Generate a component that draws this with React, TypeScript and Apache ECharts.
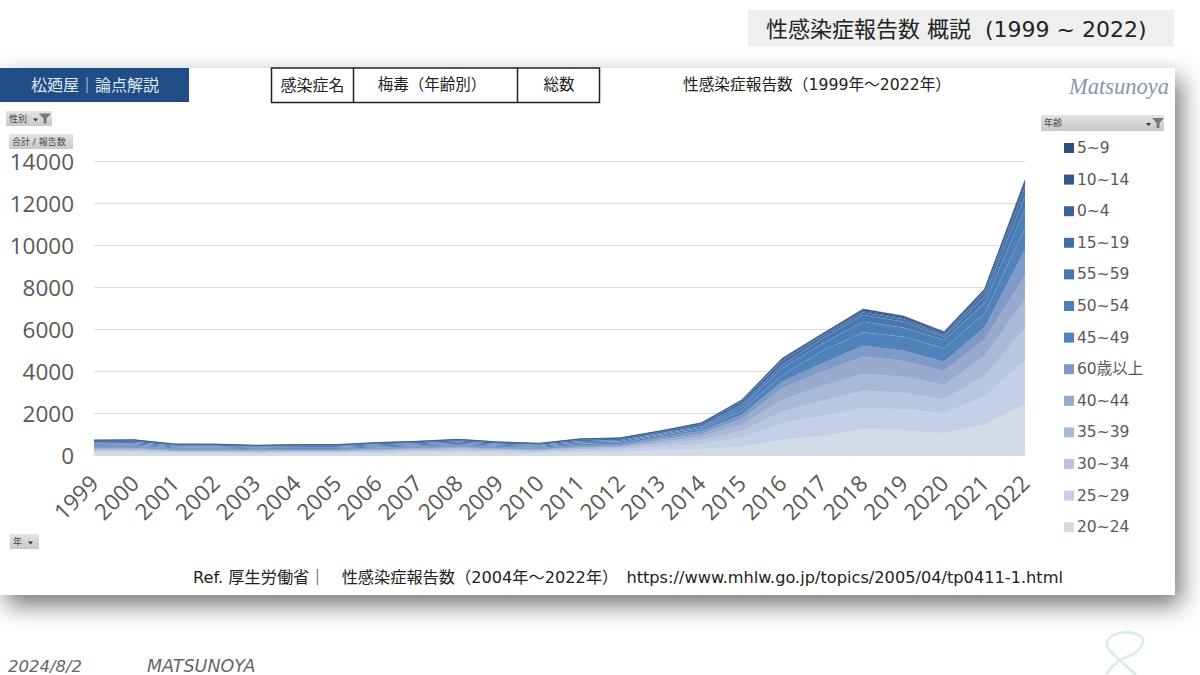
import React, { useEffect, useRef } from "react";
import * as echarts from "echarts";

const years = ["1999","2000","2001","2002","2003","2004","2005","2006","2007","2008","2009","2010","2011","2012","2013","2014","2015","2016","2017","2018","2019","2020","2021","2022"];
const yTicksMax = 14000;
const yTickStep = 2000;

// stacked from the baseline upward
const age20_24 = [100,105,70,65,60,65,65,80,95,115,95,80,120,140,215,280,380,714,873,1222,1158,1031,1440,2400];
const age25_29 = [75,80,55,55,50,50,50,65,75,85,70,60,90,100,175,240,430,793,984,1000,1016,953,1330,2120];
const age30_34 = [55,55,40,40,35,40,40,50,55,65,55,50,65,70,135,190,330,556,730,841,794,666,1000,1510];
const age35_39 = [45,45,30,30,30,30,30,40,45,55,45,40,55,60,110,165,290,556,698,793,762,683,920,1370];
const age40_44 = [40,40,30,30,25,30,30,35,40,45,35,35,45,50,95,130,270,555,683,826,745,667,800,1150];
const age60up = [115,115,85,85,75,75,75,85,90,95,85,80,95,95,120,140,200,317,396,523,492,444,580,1210];
const age45_49 = [65,65,50,50,45,50,50,55,60,65,55,50,70,75,75,95,220,318,603,635,667,634,670,1040];
const age50_54 = [60,60,45,45,40,45,45,50,55,60,50,45,65,65,60,75,170,317,349,510,428,397,500,900];
const age55_59 = [55,55,40,40,35,40,40,50,50,55,50,45,55,55,50,60,110,159,239,315,286,159,300,650];
const age15_19 = [65,65,45,45,40,40,40,50,60,70,60,50,70,75,85,100,150,200,125,125,112,79,200,400];
const age0_4 = [25,25,20,20,15,15,15,20,20,25,15,15,20,15,15,25,30,55,50,50,60,55,70,130];
const age10_14 = [10,10,10,10,10,10,10,10,5,10,5,5,10,10,10,15,20,30,30,55,50,50,50,100];
const age5_9 = [5,5,5,5,5,10,10,10,5,5,5,5,10,10,10,15,20,35,30,55,50,50,40,120];

const stackNames = ["20~24","25~29","30~34","35~39","40~44","60歳以上","45~49","50~54","55~59","15~19","0~4","10~14","5~9"];
const stackValues = [age20_24,age25_29,age30_34,age35_39,age40_44,age60up,age45_49,age50_54,age55_59,age15_19,age0_4,age10_14,age5_9];
const stackColors = ["#d3dbe9","#c4d0e5","#b8c6df","#a9b9d7","#98abce","#7f9ac6","#5082bb","#4c7eb8","#4877b0","#436da5","#3c6398","#34598c","#2d4e7e"];
const legendOrder = ["5~9","10~14","0~4","15~19","55~59","50~54","45~49","60歳以上","40~44","35~39","30~34","25~29","20~24"];

const pageTitle = "性感染症報告数 概説  (1999 ~ 2022)";
const chartTitle = "性感染症報告数（1999年～2022年）";
const refText = "Ref. 厚生労働省｜　性感染症報告数（2004年～2022年）　https://www.mhlw.go.jp/topics/2005/04/tp0411-1.html";

const JP = '"DejaVu Sans", "Noto Sans CJK JP", sans-serif';

const greyFill = new echarts.graphic.LinearGradient(0, 0, 0, 1, [
  { offset: 0, color: "#e4e4e4" },
  { offset: 1, color: "#c8c8c8" },
]);

function button(x: number, y: number, w: number, h: number, label: string, filter: boolean, arrowX: number) {
  const cy = y + h / 2;
  const els: any[] = [
    { type: "rect", shape: { x, y, width: w, height: h }, style: { fill: greyFill } },
    { type: "text", x: x + 3, y: cy, style: { text: label, fontSize: 9, fontFamily: JP, fill: "#444", verticalAlign: "middle" } },
  ];
  if (arrowX) {
    els.push({ type: "polygon", shape: { points: [[arrowX, cy], [arrowX + 5, cy], [arrowX + 2.5, cy + 3]] }, style: { fill: "#333" } });
  }
  if (filter) {
    const fx = arrowX + 6;
    els.push({
      type: "polygon",
      shape: { points: [[fx, cy - 5], [fx + 12, cy - 5], [fx + 7.5, cy], [fx + 7.5, cy + 5], [fx + 4.5, cy + 5], [fx + 4.5, cy]] },
      style: { fill: "#777" },
    });
  }
  return els;
}

function label(x: number, y: number, text: string, fontSize: number, fill = "#222", align = "center", extra: any = {}) {
  return { type: "text", x, y, style: { text, fontSize, fontFamily: JP, fill, align, verticalAlign: "middle", ...extra } };
}

export default function App() {
  const ref = useRef<HTMLDivElement>(null);
  useEffect(() => {
    const chart = echarts.init(ref.current!, null, { renderer: "svg" });
    chart.setOption({
      animation: false,
      backgroundColor: "#ffffff",
      textStyle: { fontFamily: '"Open Sans", sans-serif' },
      grid: { left: 94, right: 175, top: 161, bottom: 220, containLabel: false },
      legend: {
        orient: "vertical",
        left: 1059,
        top: 134,
        icon: "rect",
        itemWidth: 10,
        itemHeight: 10,
        itemGap: 13.6,
        data: legendOrder,
        textStyle: { color: "#595959", fontSize: 15.5, fontFamily: JP, lineHeight: 18, padding: [0, 0, 0, -2] },
      },
      xAxis: {
        type: "category",
        boundaryGap: false,
        data: years,
        axisLine: { show: false },
        axisTick: { show: false },
        axisLabel: { rotate: 45, fontSize: 22.5, color: "#595959", margin: 24, interval: 0, hideOverlap: false },
      },
      yAxis: {
        type: "value",
        min: 0,
        max: yTicksMax,
        interval: yTickStep,
        axisLine: { show: false },
        axisTick: { show: false },
        axisLabel: { fontSize: 22.5, color: "#595959", margin: 20, formatter: (v: number) => String(v) },
        splitLine: { lineStyle: { color: "#dcdcdc", width: 1 } },
      },
      series: stackNames.map((name, i) => ({
        name,
        type: "line",
        stack: "total",
        data: stackValues[i],
        symbol: "none",
        smooth: false,
        itemStyle: { color: stackColors[i] },
        lineStyle: { width: 0.5, color: i >= 6 && i <= 9 ? "rgba(255,255,255,0.14)" : stackColors[i] },
        areaStyle: { color: stackColors[i], opacity: 1 },
      })),
      graphic: [
        { type: "rect", z: -10, shape: { x: 0, y: 68, width: 1175, height: 527 }, style: { fill: "#ffffff", shadowBlur: 24, shadowOffsetX: 6, shadowOffsetY: 10, shadowColor: "rgba(0,0,0,0.55)" } },
        { type: "rect", shape: { x: 748, y: 10, width: 426, height: 36.5 }, style: { fill: "#efefef" } },
        label(766, 29, pageTitle, 22, "#222", "left"),
        { type: "rect", shape: { x: 0, y: 68, width: 189, height: 34 }, style: { fill: "#1f4e87" } },
        label(95, 85, "松廼屋｜論点解説", 16, "#dfe8f3"),
        { type: "rect", shape: { x: 271.5, y: 68, width: 328, height: 34.5 }, style: { fill: "#ffffff", stroke: "#222", lineWidth: 1.5 } },
        { type: "line", shape: { x1: 353.5, y1: 68, x2: 353.5, y2: 102.5 }, style: { stroke: "#222", lineWidth: 1.5 } },
        { type: "line", shape: { x1: 517.5, y1: 68, x2: 517.5, y2: 102.5 }, style: { stroke: "#222", lineWidth: 1.5 } },
        label(312.5, 85, "感染症名", 16),
        label(432, 85, "梅毒（年齢別）", 15.5),
        label(559, 85, "総数", 15.5),
        label(817, 84, chartTitle, 15.7),
        { type: "text", x: 1119, y: 86, style: { text: "Matsunoya", fontSize: 22.5, fontFamily: '"Liberation Serif", serif', fontStyle: "italic", fill: "#8596b2", align: "center", verticalAlign: "middle" } },
        ...button(6, 111, 46, 15, "性別", true, 33),
        ...button(9, 134, 64, 15, "合計 / 報告数", false, 0),
        ...button(10, 534, 29, 15, "年", false, 28),
        ...button(1041, 115, 123, 16, "年齢", true, 1146),
        label(628, 577.5, refText, 16.2, "#222"),
        { type: "text", x: 8, y: 666, style: { text: "2024/8/2", fontSize: 16.5, fontFamily: '"DejaVu Sans", sans-serif', fontStyle: "italic", fill: "#666", verticalAlign: "middle" } },
        { type: "text", x: 147, y: 666, style: { text: "MATSUNOYA", fontSize: 17.5, fontFamily: '"DejaVu Sans", sans-serif', fontStyle: "italic", fill: "#666", verticalAlign: "middle" } },
        { type: "polyline", shape: { points: [[1128, 632], [1140, 636], [1143, 642], [1135, 653], [1120, 660], [1106, 674]], smooth: 0.4 }, style: { stroke: "#d5ecec", lineWidth: 2.5, fill: "none" } },
        { type: "polyline", shape: { points: [[1128, 632], [1112, 636], [1107, 645], [1113, 654], [1122, 662], [1136, 675]], smooth: 0.4 }, style: { stroke: "#d5ecec", lineWidth: 2.5, fill: "none" } },
      ],
    });
    return () => chart.dispose();
  }, []);
  return <div ref={ref} style={{ position: "fixed", left: 0, top: 0, width: 1200, height: 675 }} />;
}
